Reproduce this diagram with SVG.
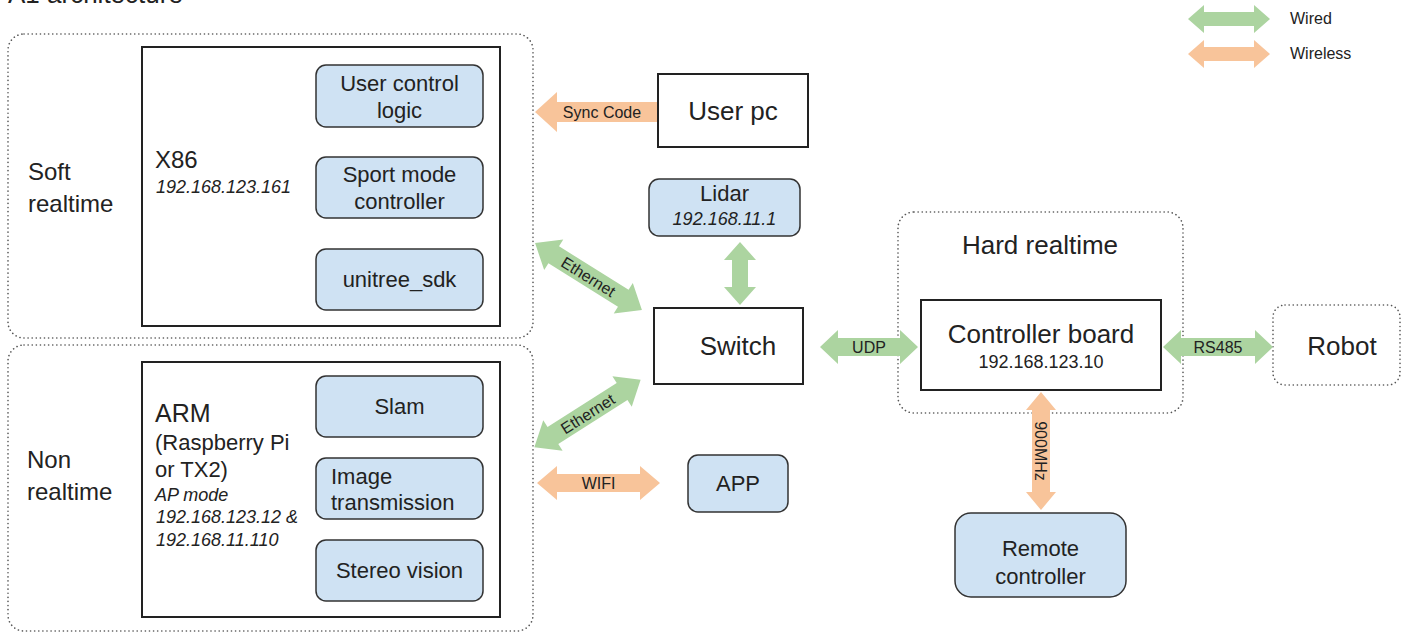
<svg xmlns="http://www.w3.org/2000/svg" width="1408" height="633" viewBox="0 0 1408 633">
<style>
text{font-family:"Liberation Sans",Arial,sans-serif;fill:#222}
.dot{fill:none;stroke:#555;stroke-width:1.6;stroke-dasharray:0.1 4;stroke-linecap:round}
.box{fill:#fff;stroke:#222;stroke-width:2}
.blue{fill:#cfe2f3;stroke:#333;stroke-width:1.5}
.g{fill:#acd4a0}
.o{fill:#f8c49a}
.big{font-size:26px}
.mid{font-size:22px}
.lab{font-size:16px}
.it{font-style:italic}
.c{text-anchor:middle}
</style>
<rect width="1408" height="633" fill="#fff"/>
<text x="8" y="3" style="font-size:26px">A1 architecture</text>

<g id="legend">
<polygon class="g" transform="translate(1229,19)" points="-41,0 -25,-14 -25,-7 25,-7 25,-14 41,0 25,14 25,7 -25,7 -25,14"/>
<text x="1290" y="24" style="font-size:16px">Wired</text>
<polygon class="o" transform="translate(1229,54)" points="-41,0 -25,-14 -25,-7 25,-7 25,-14 41,0 25,14 25,7 -25,7 -25,14"/>
<text x="1290" y="59" style="font-size:16px">Wireless</text>
</g>

<g id="soft-realtime">
<rect class="dot" x="8" y="34" width="525" height="304" rx="16"/>
<text x="28" y="180" style="font-size:24px">Soft</text>
<text x="28" y="212" style="font-size:24px">realtime</text>
</g>
<g id="x86">
<rect class="box" x="142" y="47" width="358" height="279"/>
<text x="155" y="168" style="font-size:24px">X86</text>
<text x="156" y="193" class="it" style="font-size:18px">192.168.123.161</text>
</g>
<g id="user-control-logic">
<rect class="blue" x="316" y="65" width="167" height="62" rx="10"/>
<text x="399.5" y="91" class="mid c">User control</text>
<text x="399.5" y="118" class="mid c">logic</text>
</g>
<g id="sport-mode-controller">
<rect class="blue" x="316" y="157" width="167" height="61" rx="10"/>
<text x="399.5" y="182" class="mid c">Sport mode</text>
<text x="399.5" y="209" class="mid c">controller</text>
</g>
<g id="unitree-sdk">
<rect class="blue" x="316" y="249" width="167" height="61" rx="10"/>
<text x="399.5" y="287" class="mid c">unitree_sdk</text>
</g>

<g id="non-realtime">
<rect class="dot" x="8" y="345" width="525" height="286" rx="16"/>
<text x="27" y="468" style="font-size:24px">Non</text>
<text x="27" y="500" style="font-size:24px">realtime</text>
</g>
<g id="arm">
<rect class="box" x="142" y="362" width="358" height="255"/>
<text x="155" y="422" style="font-size:25px">ARM</text>
<text x="155" y="450" class="mid">(Raspberry Pi</text>
<text x="155" y="477" class="mid">or TX2)</text>
<text x="155" y="501" class="it" style="font-size:18px">AP mode</text>
<text x="156" y="523" class="it" style="font-size:18px">192.168.123.12 &amp;</text>
<text x="156" y="546" class="it" style="font-size:18px">192.168.11.110</text>
</g>
<g id="slam">
<rect class="blue" x="316" y="376" width="167" height="61" rx="10"/>
<text x="399.5" y="414" class="mid c">Slam</text>
</g>
<g id="image-transmission">
<rect class="blue" x="316" y="458" width="167" height="61" rx="10"/>
<text x="331" y="484" class="mid">Image</text>
<text x="331" y="510" class="mid">transmission</text>
</g>
<g id="stereo-vision">
<rect class="blue" x="316" y="540" width="167" height="61" rx="10"/>
<text x="399.5" y="578" class="mid c">Stereo vision</text>
</g>

<g id="user-pc">
<rect class="box" x="658" y="74" width="150" height="73"/>
<text x="733" y="120" class="big c">User pc</text>
</g>
<g id="lidar">
<rect class="blue" x="649" y="179" width="151" height="57" rx="10"/>
<text x="724.5" y="201" class="c" style="font-size:22px">Lidar</text>
<text x="724.5" y="225" class="c it" style="font-size:18px">192.168.11.1</text>
</g>
<g id="switch">
<rect class="box" x="654" y="308" width="149" height="76"/>
<text x="738" y="355" class="big c">Switch</text>
</g>
<g id="app">
<rect class="blue" x="688" y="455" width="100" height="57" rx="10"/>
<text x="738" y="491" class="mid c">APP</text>
</g>
<g id="hard-realtime">
<rect class="dot" x="898" y="212" width="285" height="201" rx="16"/>
<text x="1040" y="254" class="big c">Hard realtime</text>
</g>
<g id="controller-board">
<rect class="box" x="921" y="300" width="240" height="90"/>
<text x="1041" y="343" class="big c">Controller board</text>
<text x="1041" y="368" class="c" style="font-size:18px">192.168.123.10</text>
</g>
<g id="robot">
<rect class="dot" x="1273" y="305" width="127" height="80" rx="12"/>
<text x="1342" y="355" class="big c">Robot</text>
</g>
<g id="remote-controller">
<rect class="blue" x="955" y="513" width="171" height="84" rx="16"/>
<text x="1040.5" y="556" class="mid c">Remote</text>
<text x="1040.5" y="584" class="mid c">controller</text>
</g>

<g id="connectors">
<polygon class="o" points="535,112 557,92 557,102 657,102 657,122 557,122 557,132"/>
<text x="602" y="118" class="lab c">Sync Code</text>

<g transform="translate(588.5,276.5) rotate(32)">
<polygon class="g" points="-63,0 -41,-18 -41,-10 41,-10 41,-18 63,0 41,18 41,10 -41,10 -41,18"/>
<text x="0" y="6" class="lab c">Ethernet</text>
</g>
<g transform="translate(587.5,413.5) rotate(-32.5)">
<polygon class="g" points="-63,0 -41,-18 -41,-10 41,-10 41,-18 63,0 41,18 41,10 -41,10 -41,18"/>
<text x="0" y="6" class="lab c">Ethernet</text>
</g>
<g transform="translate(598.5,483)">
<polygon class="o" points="-61.5,0 -41.5,-17 -41.5,-9 41.5,-9 41.5,-17 61.5,0 41.5,17 41.5,9 -41.5,9 -41.5,17"/>
<text x="0" y="6" class="lab c">WIFI</text>
</g>
<polygon class="g" transform="translate(740,273.5) rotate(90)" points="-31.5,0 -13.5,-16 -13.5,-8 13.5,-8 13.5,-16 31.5,0 13.5,16 13.5,8 -13.5,8 -13.5,16"/>
<g transform="translate(869,347)">
<polygon class="g" points="-49,0 -31,-17 -31,-9 31,-9 31,-17 49,0 31,17 31,9 -31,9 -31,17"/>
<text x="0" y="6" class="lab c">UDP</text>
</g>
<g transform="translate(1218,347)">
<polygon class="g" points="-55,0 -37,-17 -37,-9 37,-9 37,-17 55,0 37,17 37,9 -37,9 -37,17"/>
<text x="0" y="6" class="lab c">RS485</text>
</g>
<g transform="translate(1041,451) rotate(90)">
<polygon class="o" points="-59,0 -41,-15 -41,-9 41,-9 41,-15 59,0 41,15 41,9 -41,9 -41,15"/>
<text x="0" y="6" class="lab c">900MHz</text>
</g>
</g>
</svg>
